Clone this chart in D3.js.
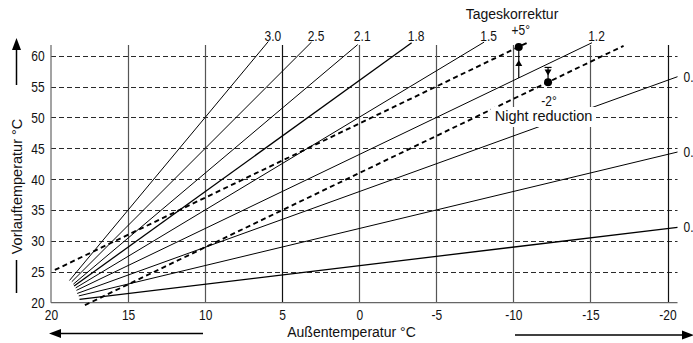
<!DOCTYPE html>
<html>
<head>
<meta charset="utf-8">
<script src="https://cdn.jsdelivr.net/npm/d3@7"></script>
<style>
  body { margin: 0; background: #fff; }
  svg { display: block; }
  .num { font-family: "Liberation Sans", Arial, sans-serif; font-size: 15px; fill: #111; }
  .txt { font-family: "Liberation Sans", Arial, sans-serif; fill: #111; }
</style>
</head>
<body>
<script>
// heating curves, outside temp -> flow temp
var curveLabels = ["3.0", "2.5", "2.1", "1.8", "1.5", "1.2", "0.9", "0.6", "0.3"];
var startOut  = [18.8, 18.65, 18.55, 18.5, 18.4, 18.35, 18.3, 18.2, 18.15];
var startFlow = [23.6, 23.4, 23.0, 22.7, 22.4, 22.0, 21.5, 21.1, 20.55];
var endOut    = [5.9, 3.1, 0.1, -3.4, -8.1, -15.1, -20.65, -20.65, -20.65];
var endFlow   = [62.3, 62.2, 61.8, 62.1, 62.2, 62.1, 56.6, 44.4, 32.2];
var boldCurves = ["1.8", "0.3"];

// shifted 1.2 curve (day correction / night reduction)
var shiftOut  = [[19.75, -10.9], [17.8, -17.15]];
var shiftFlow = [[25.3, 62.1], [19.6, 61.6]];

// correction markers
var markerOut   = [-10.35, -12.25];
var markerFlow  = [61.4, 55.7];
var markerBase  = [56.4, 58.1];
var markerTip   = [59.3, 56.8];
var markerLabel = ["+5°", "-2°"];

var xTicks = [20, 15, 10, 5, 0, -5, -10, -15, -20];
var yTicks = [20, 25, 30, 35, 40, 45, 50, 55, 60];

var W = 693, H = 343;
var NARROW = 0.8; // digits in the original are condensed
var svg = d3.select("body").append("svg")
    .attr("width", W).attr("height", H);

var x = d3.scaleLinear().domain([20, -20]).range([51, 667.5]);
var y = d3.scaleLinear().domain([20, 60]).range([302.7, 55.7]);
var xRight = x(-20.65);
var yTop = y.invert(45);

function numText(px, py, anchor, str) {
    return svg.append("text").attr("class", "num")
        .attr("transform", "translate(" + px + "," + py + ") scale(" + NARROW + ",1)")
        .attr("text-anchor", anchor).text(str);
}

// grid
svg.append("g").selectAll("line")
    .data(yTicks.filter(function(d) { return d > 20; }))
    .enter().append("line")
    .attr("x1", x(20)).attr("x2", xRight)
    .attr("y1", function(d) { return Math.round(y(d)) + 0.5; })
    .attr("y2", function(d) { return Math.round(y(d)) + 0.5; })
    .attr("stroke", "#2a2a2a").attr("stroke-width", 1)
    .attr("stroke-dasharray", "5,3");

svg.append("g").selectAll("line")
    .data(xTicks.filter(function(d) { return d < 20; }))
    .enter().append("line")
    .attr("x1", function(d) { return Math.round(x(d)) + 0.5; })
    .attr("x2", function(d) { return Math.round(x(d)) + 0.5; })
    .attr("y1", y(20)).attr("y2", y(yTop))
    .attr("stroke", function(d) { return (d === 5 || d === -20) ? "#111" : "#555"; })
    .attr("stroke-width", 1.2);

// axis lines
svg.append("line").attr("x1", x(20)).attr("x2", x(20))
    .attr("y1", y(20)).attr("y2", y(yTop))
    .attr("stroke", "#666").attr("stroke-width", 1.2);
svg.append("line").attr("x1", x(20)).attr("x2", xRight)
    .attr("y1", y(20)).attr("y2", y(20))
    .attr("stroke", "#666").attr("stroke-width", 1.2);

// tick labels
var fmt = function(d) { return String(d); };
var yAxis = svg.append("g").attr("transform", "translate(" + x(20) + ",0)")
    .call(d3.axisLeft(y).tickValues(yTicks).tickSize(0).tickPadding(8).tickFormat(fmt));
yAxis.select(".domain").remove();
yAxis.selectAll("text").attr("class", "num").attr("font-size", null).attr("font-family", null)
    .attr("transform", "scale(" + NARROW + ",1)");

var xAxis = svg.append("g").attr("transform", "translate(0," + y(20) + ")")
    .call(d3.axisBottom(x).tickValues(xTicks).tickSize(0).tickPadding(6.5).tickFormat(fmt));
xAxis.select(".domain").remove();
xAxis.selectAll("text").attr("class", "num").attr("font-size", null).attr("font-family", null)
    .attr("transform", "scale(" + NARROW + ",1)");

// curves
var curves = curveLabels.map(function(l, i) {
    return { label: l, x1: startOut[i], y1: startFlow[i], x2: endOut[i], y2: endFlow[i] };
});

svg.append("g").selectAll("line")
    .data(curves).enter().append("line")
    .attr("x1", function(d) { return x(d.x1); })
    .attr("y1", function(d) { return y(d.y1); })
    .attr("x2", function(d) { return x(d.x2); })
    .attr("y2", function(d) { return y(d.y2); })
    .attr("stroke", "#000")
    .attr("stroke-width", function(d) { return boldCurves.indexOf(d.label) >= 0 ? 1.3 : 1; });

// curve labels: top ones above the end, right ones beside it
curves.forEach(function(d) {
    if (d.x2 > -20) numText(x(d.x2) + 4.5, 40.5, "middle", d.label);
    else numText(x(d.x2) + 6, y(d.y2) + 5, "start", d.label);
});

// shifted dashed curves
svg.append("g").selectAll("line")
    .data(shiftOut).enter().append("line")
    .attr("x1", function(d) { return x(d[0]); })
    .attr("x2", function(d) { return x(d[1]); })
    .attr("y1", function(d, i) { return y(shiftFlow[i][0]); })
    .attr("y2", function(d, i) { return y(shiftFlow[i][1]); })
    .attr("stroke", "#000").attr("stroke-width", 1.9)
    .attr("stroke-dasharray", "5,3.5");

// correction arrows + dots
markerOut.forEach(function(mo, i) {
    var mx = x(mo);
    svg.append("line").attr("x1", mx).attr("x2", mx)
        .attr("y1", y(markerBase[i])).attr("y2", y(markerFlow[i]))
        .attr("stroke", "#000").attr("stroke-width", 1.2);
    var tip = y(markerTip[i]);
    var dir = markerTip[i] > markerBase[i] ? 1 : -1; // 1 = up
    svg.append("path")
        .attr("d", "M" + mx + "," + tip + "L" + (mx - 3.5) + "," + (tip + dir * 6) + "L" + (mx + 3.5) + "," + (tip + dir * 6) + "Z")
        .attr("fill", "#000");
    if (dir < 0) {
        svg.append("line").attr("x1", mx - 3.5).attr("x2", mx + 3.5)
            .attr("y1", y(markerBase[i])).attr("y2", y(markerBase[i]))
            .attr("stroke", "#000").attr("stroke-width", 1.2);
    }
    svg.append("circle").attr("cx", mx).attr("cy", y(markerFlow[i]))
        .attr("r", 4).attr("fill", "#000");
});

numText(x(markerOut[0]) + 2, 34.5, "middle", markerLabel[0]);
numText(x(markerOut[1]) + 1, 105.5, "middle", markerLabel[1]);

svg.append("text").attr("class", "txt")
    .attr("x", 512).attr("y", 19).attr("font-size", 14)
    .attr("text-anchor", "middle").text("Tageskorrektur");

// night reduction label sits on a white box over the lines
svg.append("rect").attr("x", 491).attr("y", 107).attr("width", 105).attr("height", 20)
    .attr("fill", "#fff");
svg.append("text").attr("class", "txt")
    .attr("x", 543.5).attr("y", 120.5).attr("font-size", 14.5)
    .attr("text-anchor", "middle").text("Night reduction");

// axis titles
svg.append("text").attr("class", "txt")
    .attr("transform", "translate(21.5,186.5) rotate(-90)")
    .attr("font-size", 14.5).attr("text-anchor", "middle")
    .text("Vorlauftemperatur °C");
svg.append("text").attr("class", "txt")
    .attr("x", 351.5).attr("y", 336.5).attr("font-size", 14)
    .attr("text-anchor", "middle").text("Außentemperatur °C");

// direction arrows
function arrow(x1, y1, x2, y2) {
    var ang = Math.atan2(y2 - y1, x2 - x1);
    var len = 12, hw = 4.5;
    var bx = x2 - len * Math.cos(ang), by = y2 - len * Math.sin(ang);
    svg.append("line").attr("x1", x1).attr("y1", y1).attr("x2", bx).attr("y2", by)
        .attr("stroke", "#000").attr("stroke-width", 1.5);
    svg.append("path")
        .attr("d", "M" + x2 + "," + y2 +
            "L" + (bx + hw * Math.sin(ang)) + "," + (by - hw * Math.cos(ang)) +
            "L" + (bx - hw * Math.sin(ang)) + "," + (by + hw * Math.cos(ang)) + "Z")
        .attr("fill", "#000");
}
arrow(16.5, 85, 16.5, 38);
svg.append("line").attr("x1", 16.5).attr("x2", 16.5).attr("y1", 260).attr("y2", 293)
    .attr("stroke", "#000").attr("stroke-width", 1.5);
arrow(203, 333.5, 49, 333.5);
arrow(515, 335, 694, 335);
</script>
</body>
</html>
